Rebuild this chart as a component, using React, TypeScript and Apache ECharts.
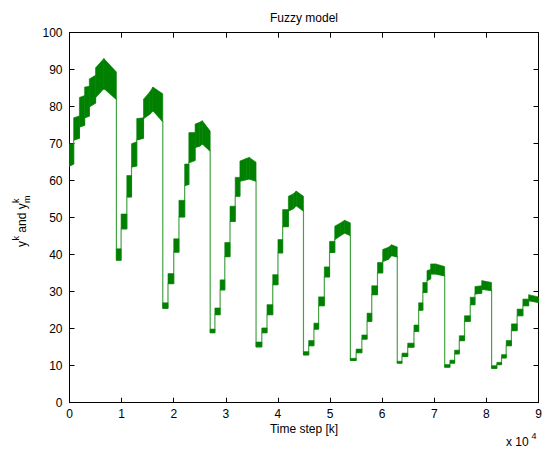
import React, { useEffect, useRef } from 'react';
import * as echarts from 'echarts';

// Envelope of the fuzzy-model output band (time step, lower edge, upper edge)
const TIME = [
  0, 800, 800, 1900, 1900, 2900, 2900, 3800, 3800, 5000, 5000, 6600, 9000, 9000,
  9900, 9900, 11000, 11000, 11900, 11900, 12900, 12900, 14200, 14200, 15400, 16000, 17900, 17900,
  18900, 18900, 20000, 20000, 21000, 21000, 22100, 22100, 22900, 22900, 24100, 24100, 25000, 25500, 27000, 27000,
  27900, 27900, 28900, 28900, 29800, 29800, 30800, 30800, 31800, 31800, 32700, 32700, 33900, 34500, 35800, 35800,
  36900, 36900, 37900, 37900, 39000, 39000, 40000, 40000, 40900, 40900, 42000, 42000, 43000, 43500, 44900, 44900,
  45900, 45900, 46900, 46900, 47800, 47800, 48900, 48900, 49900, 49900, 50900, 50900, 52000, 52800, 53900, 53900,
  55000, 55000, 56100, 56100, 57100, 57100, 58000, 58000, 59100, 59100, 60100, 60100, 61200, 61800, 62900, 62900,
  63800, 63800, 64900, 64900, 66100, 66100, 67000, 67000, 67800, 67800, 68600, 68600, 69300, 69300, 70300, 72000, 72000,
  73000, 73000, 73900, 73900, 74800, 74800, 75800, 75800, 76900, 76900, 77800, 77800, 79100, 79100, 81000, 81000,
  82000, 82000, 82900, 82900, 83800, 83800, 84800, 84800, 85900, 85900, 87000, 87000, 88100, 88100, 90000,
];

const LOWER = [
  64, 64.5, 71, 71.5, 74.5, 75, 77, 77.5, 80, 81, 82.5, 85, 82, 38.5,
  38.5, 47, 47, 55.6, 55.6, 63.7, 64, 71, 71.5, 76.8, 78, 79, 76, 25.5,
  25.5, 32.2, 32.2, 40.7, 40.7, 50.2, 50.2, 58.7, 59, 64.9, 65.5, 69, 69.4, 70, 68, 18.9,
  18.9, 23.8, 23.8, 30.5, 30.5, 39.5, 39.5, 49, 49, 55.8, 55.8, 59.9, 60.3, 60.5, 59.9, 15.1,
  15.1, 18.9, 18.9, 23.8, 23.8, 31.9, 31.9, 40.5, 40.5, 47.6, 47.6, 51.8, 52.5, 53.3, 51.8, 12.9,
  12.9, 15.4, 15.4, 19.9, 19.9, 26.2, 26.2, 34, 34, 40.6, 40.6, 44.1, 45.2, 45.9, 45.2, 11.4,
  11.4, 13.5, 13.5, 17.2, 17.2, 22, 22, 29.2, 29.2, 35.1, 35.1, 38.2, 38.8, 39.8, 39.4, 10.7,
  10.7, 12.5, 12.5, 15, 15, 19.3, 19.3, 25, 25, 29.8, 29.8, 33, 33.5, 34.8, 34.8, 34.3, 9.6,
  9.6, 10.7, 10.7, 13.2, 13.2, 16.8, 16.8, 22, 22, 26.5, 26.5, 29.4, 29.6, 30.7, 30.3, 9.3,
  9.3, 10.3, 10.3, 12.1, 12.1, 15.4, 15.4, 19.5, 19.5, 23.5, 23.5, 26.2, 26.2, 27.6, 27.1,
];

const UPPER = [
  70, 70, 77, 77.5, 82.5, 83, 85.3, 85.5, 87.5, 88.5, 90.5, 93, 89.4, 41.6,
  41.6, 51, 51, 61.4, 61.4, 70, 70.5, 76.8, 77, 82, 84, 85.3, 83.5, 27,
  27, 34.9, 34.9, 44.3, 44.3, 54.7, 54.7, 64.5, 64.5, 73, 73, 75.3, 75.8, 76.2, 73.4, 19.9,
  19.9, 25.6, 25.6, 33.2, 33.2, 43.3, 43.3, 53.1, 53.1, 60.9, 60.9, 65.3, 66, 66.3, 65, 16.4,
  16.4, 20.2, 20.2, 26.5, 26.5, 34.6, 34.6, 44.1, 44.1, 52.2, 52.2, 55.8, 56.5, 57.2, 55.8, 13.8,
  13.8, 16.8, 16.8, 21.5, 21.5, 28.6, 28.6, 36.7, 36.7, 43.6, 43.6, 47.7, 48.6, 49.3, 48.6, 12,
  12, 14.5, 14.5, 18.3, 18.3, 24.2, 24.2, 31.6, 31.6, 37.9, 37.9, 41.4, 42, 42.7, 42.1, 11.2,
  11.2, 13.4, 13.4, 16.1, 16.1, 21, 21, 27, 27, 32.5, 32.5, 35.7, 36, 37.5, 37.5, 36.8, 10.3,
  10.3, 11.5, 11.5, 14.2, 14.2, 18.1, 18.1, 23.5, 23.5, 28.5, 28.5, 31.4, 31.6, 33, 32.5, 10,
  10, 10.9, 10.9, 13, 13, 16.8, 16.8, 21.3, 21.3, 25.3, 25.3, 28, 28, 29.2, 28.6,
];

const X_MAX = 90000;
const X_STEP = 10000;
const Y_MAX = 100;
const Y_STEP = 10;

const FONT = '"Liberation Sans", Arial, Helvetica, sans-serif';
const BAND = '#008000';
const THIN = '#45a345';

export default function App() {
  const ref = useRef<HTMLDivElement>(null);

  useEffect(() => {
    if (!ref.current) return;
    const chart = echarts.init(ref.current, null, { renderer: 'svg' });

    const bandData = TIME.map((t, i) => [t, LOWER[i], UPPER[i]]);
    const lineData = TIME.map((t, i) => [t, LOWER[i]]);

    const axisLine = { show: true, onZero: false, lineStyle: { color: '#000', width: 1 } };
    const tick = { show: true, inside: true, length: 5, lineStyle: { color: '#000', width: 1 } };
    const label = { color: '#000', fontSize: 12, fontFamily: FONT };

    const option: any = {
      animation: false,
      backgroundColor: '#ffffff',
      grid: { left: 69.5, right: 11.5, top: 32.7, bottom: 52.3, containLabel: false },
      xAxis: [
        {
          type: 'value', min: 0, max: X_MAX, interval: X_STEP, position: 'bottom',
          axisLine, axisTick: tick, splitLine: { show: false },
          axisLabel: { ...label, margin: 5, lineHeight: 12, formatter: (v: number) => String(v / X_STEP) },
        },
        {
          type: 'value', min: 0, max: X_MAX, interval: X_STEP, position: 'top',
          axisLine, axisTick: tick, splitLine: { show: false }, axisLabel: { show: false },
        },
      ],
      yAxis: [
        {
          type: 'value', min: 0, max: Y_MAX, interval: Y_STEP, position: 'left',
          axisLine, axisTick: tick, splitLine: { show: false },
          axisLabel: { ...label, margin: 7 },
        },
        {
          type: 'value', min: 0, max: Y_MAX, interval: Y_STEP, position: 'right',
          axisLine, axisTick: tick, splitLine: { show: false }, axisLabel: { show: false },
        },
      ],
      series: [
        {
          type: 'line', xAxisIndex: 0, yAxisIndex: 0, data: lineData,
          symbol: 'none', showSymbol: false, silent: true,
          lineStyle: { color: THIN, width: 1.2 }, z: 2,
        },
        {
          type: 'custom', xAxisIndex: 0, yAxisIndex: 0, data: bandData, silent: true,
          encode: { x: 0, y: [1, 2] }, z: 3,
          renderItem: (params: any, api: any) => {
            const i = params.dataIndex;
            if (i >= TIME.length - 1 || TIME[i] === TIME[i + 1]) {
              return { type: 'group', children: [] };
            }
            const a = api.coord([TIME[i], UPPER[i]]);
            const b = api.coord([TIME[i + 1], UPPER[i + 1]]);
            const c = api.coord([TIME[i + 1], LOWER[i + 1]]);
            const d = api.coord([TIME[i], LOWER[i]]);
            return {
              type: 'polygon',
              shape: { points: [a, b, c, d] },
              style: { fill: BAND, stroke: BAND, lineWidth: 0.6 },
            };
          },
        },
      ],
      graphic: [
        {
          type: 'text', x: 304, y: 18,
          style: { text: 'Fuzzy model', fill: '#000', fontSize: 12, fontFamily: FONT, align: 'center', verticalAlign: 'middle' },
        },
        {
          type: 'text', x: 304, y: 429,
          style: { text: 'Time step [k]', fill: '#000', fontSize: 12, fontFamily: FONT, align: 'center', verticalAlign: 'middle' },
        },
        {
          type: 'text', x: 506, y: 442,
          style: { text: 'x 10', fill: '#000', fontSize: 12, fontFamily: FONT, align: 'left', verticalAlign: 'middle' },
        },
        {
          type: 'text', x: 531.5, y: 436,
          style: { text: '4', fill: '#000', fontSize: 9, fontFamily: FONT, align: 'left', verticalAlign: 'middle' },
        },
        {
          type: 'group', x: 21.5, y: 247, rotation: Math.PI / 2,
          children: [
            { type: 'text', x: 0, y: 0, style: { text: 'y', fill: '#000', fontSize: 12, fontFamily: FONT, align: 'left', verticalAlign: 'middle' } },
            { type: 'text', x: 6.5, y: -5.5, style: { text: 'k', fill: '#000', fontSize: 9, fontFamily: FONT, align: 'left', verticalAlign: 'middle' } },
            { type: 'text', x: 11, y: 0, style: { text: ' and y', fill: '#000', fontSize: 12, fontFamily: FONT, align: 'left', verticalAlign: 'middle' } },
            { type: 'text', x: 44, y: -5.5, style: { text: 'k', fill: '#000', fontSize: 9, fontFamily: FONT, align: 'left', verticalAlign: 'middle' } },
            { type: 'text', x: 44, y: 5.5, style: { text: 'm', fill: '#000', fontSize: 9, fontFamily: FONT, align: 'left', verticalAlign: 'middle' } },
          ],
        },
      ],
    };

    chart.setOption(option);
    return () => chart.dispose();
  }, []);

  return (
    <div
      ref={ref}
      style={{ position: 'fixed', left: 0, top: 0, width: 550, height: 455, background: '#fff' }}
    />
  );
}
